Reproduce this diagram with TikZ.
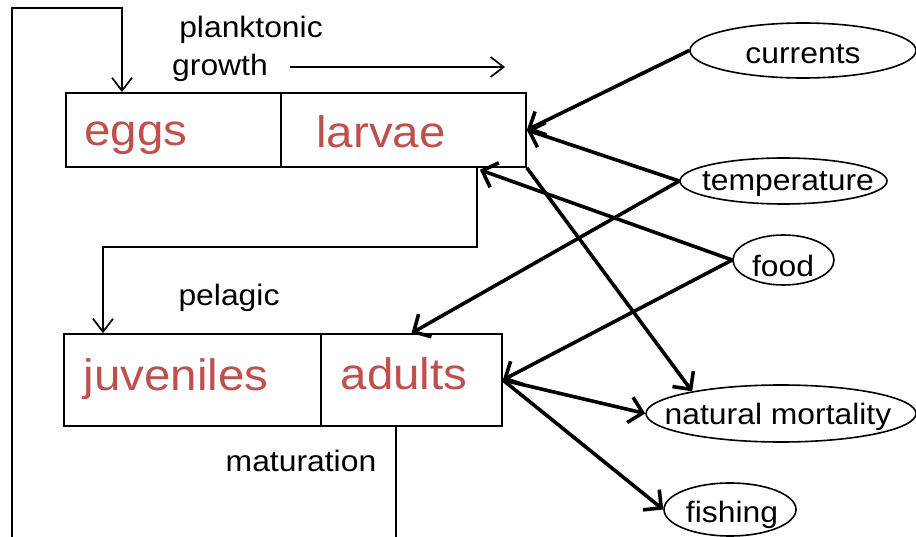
\documentclass[tikz,border=0pt]{standalone}
\usepackage{fontspec}
\setmainfont{Liberation Sans}[FakeStretch=1.08]
\usetikzlibrary{arrows.meta,shapes.geometric}
\definecolor{stagered}{HTML}{C0504D}
\begin{document}
\begin{tikzpicture}[x=1pt,y=-1pt,
  cell/.style={draw=black,line width=1.7pt,inner sep=0pt},
  stage/.style={text=stagered,font=\fontsize{44}{50}\selectfont,inner sep=0pt},
  lbl/.style={font=\fontsize{29.5}{34}\selectfont,inner sep=0pt},
  factor/.style={draw,ellipse,line width=1.6pt,inner sep=0pt},
  flow/.style={line width=1.7pt,-{Straight Barb[length=13pt,width=20pt]}},
  infl/.style={line width=3.6pt,-{Straight Barb[length=13pt,width=26pt]}}]
\useasboundingbox (0,0) rectangle (916,537);
% stage cells
\node[cell,minimum width=215pt,minimum height=74pt] (eggs) at (173.5,130) {};
\node[cell,minimum width=245pt,minimum height=74pt] (larvae) at (403.5,130) {};
\node[cell,minimum width=257pt,minimum height=92pt] (juv) at (192.5,380) {};
\node[cell,minimum width=181pt,minimum height=92pt] (adults) at (411.5,380) {};
\node[stage] (eggst) at (136,138) {eggs};
\node[stage] (larvaet) at (381,132) {larvae};
\node[stage] (juvt) at (176,379) {juveniles};
\node[stage] (adultst) at (404,374) {adults};
% factor ellipses
\node[factor,minimum width=226pt,minimum height=55pt] (currents) at (803,50.5) {};
\node[factor,minimum width=207pt,minimum height=46pt] (temp) at (783.5,181) {};
\node[factor,minimum width=101pt,minimum height=50pt] (food) at (783.5,260) {};
\node[factor,minimum width=270pt,minimum height=57pt] (natmort) at (781,413.5) {};
\node[factor,minimum width=132pt,minimum height=53pt] (fishing) at (730,509.5) {};
\node[lbl] (currentst) at (803,54) {currents};
\node[lbl] (tempt) at (788,184) {temperature};
\node[lbl] (foodt) at (783,266) {food};
\node[lbl] (natmortt) at (778,417) {natural mortality};
\node[lbl] (fishingt) at (732,515) {fishing};
% process labels
\node[lbl] (plank) at (251,30) {planktonic};
\node[lbl] (growth) at (220,68) {growth};
\node[lbl] (pelagic) at (229,298) {pelagic};
\node[lbl] (matur) at (301,461) {maturation};
% flow connectors
\coordinate (g1) at (290,67);
\coordinate (g2) at (505,67);
\draw[flow] (g1) -- (g2);
\coordinate (p1) at (477,247);
\coordinate (p2) at (103,247);
\draw[flow] (p1 |- larvae.south) -- (p1) -- (p2) -- (p2 |- juv.north);
\coordinate (m1) at (396,545);
\coordinate (m2) at (12,545);
\coordinate (m3) at (12,8);
\coordinate (m4) at (122,8);
\draw[flow] (m1 |- adults.south) -- (m1) -- (m2) -- (m3) -- (m4) -- (m4 |- eggs.north);
% influence arrows
\draw[infl] (currents.west) -- (larvae.east);
\draw[infl] (temp.west) -- (larvae.east);
\draw[infl] (temp.west) -- (adults.north);
\draw[infl] (food.west) -- ([xshift=-47pt,yshift=-2pt]larvae.south east);
\draw[infl] (food.west) -- (adults.east);
\draw[infl] (larvae.south east) -- (natmort.166);
\draw[infl] (adults.east) -- (natmort.west);
\draw[infl] (adults.east) -- (fishing.west);
\end{tikzpicture}
\end{document}
